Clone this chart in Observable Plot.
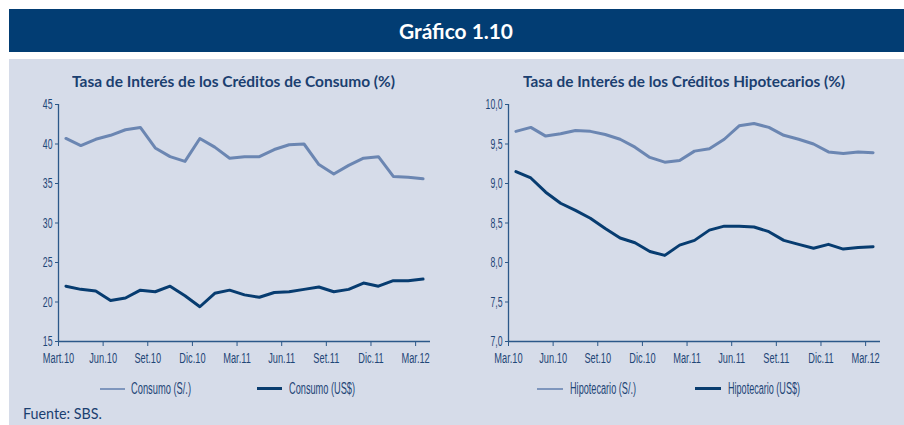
<!DOCTYPE html>
<html><head><meta charset="utf-8">
<script src="https://cdn.jsdelivr.net/npm/d3@7"></script>
<script src="https://cdn.jsdelivr.net/npm/@observablehq/plot@0.6"></script>
<style>
body{margin:0;width:904px;height:425px;position:relative;background:#fff;overflow:hidden;font-family:Lato,"Open Sans",sans-serif}
#band{position:absolute;left:9px;top:9px;width:895px;height:43px;background:#023d73}
#panel{position:absolute;left:9px;top:59px;width:895px;height:366px;background:#d6dce9}
.abs{position:absolute;white-space:nowrap}
.fit{transform-origin:0 50%}
.title{font-weight:700;font-size:16px;color:#1b3f70;line-height:20px}
.leg{font-family:"Liberation Sans",sans-serif;font-size:16px;color:#1f4677;line-height:16px}
.sw{position:absolute}
</style></head>
<body>
<div id="band"></div>
<div id="panel"></div>
<div class="abs fit" id="hdr" data-w="114" style="left:399px;top:19px;font-weight:700;font-size:20px;color:#fff;line-height:24px">Gráfico 1.10</div>
<div class="abs fit title" data-w="323" style="left:72px;top:71px">Tasa de Interés de los Créditos de Consumo (%)</div>
<div class="abs fit title" data-w="322" style="left:523px;top:71px">Tasa de Interés de los Créditos Hipotecarios (%)</div>
<div id="c1" class="abs" style="left:0;top:90px"></div>
<div id="c2" class="abs" style="left:450px;top:90px"></div>
<div class="sw" style="left:100px;top:388px;width:25px;height:2px;background:#7f96bd"></div>
<div class="abs leg fit" data-w="60" style="left:131px;top:381px">Consumo (S/.)</div>
<div class="sw" style="left:257px;top:387px;width:25px;height:3px;background:#0a3d6f"></div>
<div class="abs leg fit" data-w="66" style="left:289px;top:381px">Consumo (US$)</div>
<div class="sw" style="left:537px;top:388px;width:26px;height:2px;background:#7f96bd"></div>
<div class="abs leg fit" data-w="66" style="left:570px;top:381px">Hipotecario (S/.)</div>
<div class="sw" style="left:695px;top:387px;width:26px;height:3px;background:#0a3d6f"></div>
<div class="abs leg fit" data-w="72" style="left:728px;top:381px">Hipotecario (US$)</div>
<div class="abs fit" data-w="79" style="left:23px;top:403px;font-size:15px;color:#1b3f70;line-height:20px">Fuente: SBS.</div>
<script>
// Data: monthly, Mar.10 .. Mar.12 (25 months)
const consumoSoles = [40.7, 39.8, 40.6, 41.1, 41.8, 42.1, 39.5, 38.4, 37.8, 40.7, 39.6, 38.2, 38.4, 38.4, 39.3, 39.9, 40.0, 37.4, 36.2, 37.3, 38.2, 38.4, 35.9, 35.8, 35.6];
const consumoDolares = [22.0, 21.6, 21.4, 20.2, 20.5, 21.5, 21.3, 22.0, 20.8, 19.4, 21.1, 21.5, 20.9, 20.6, 21.2, 21.3, 21.6, 21.9, 21.3, 21.6, 22.4, 22.0, 22.7, 22.7, 22.9];
const hipoSoles = [9.66, 9.71, 9.60, 9.63, 9.67, 9.66, 9.62, 9.56, 9.46, 9.33, 9.27, 9.29, 9.41, 9.44, 9.56, 9.73, 9.76, 9.71, 9.61, 9.56, 9.50, 9.40, 9.38, 9.40, 9.39];
const hipoDolares = [9.15, 9.07, 8.89, 8.75, 8.66, 8.56, 8.43, 8.31, 8.25, 8.14, 8.09, 8.22, 8.28, 8.41, 8.46, 8.46, 8.45, 8.39, 8.28, 8.23, 8.18, 8.23, 8.17, 8.19, 8.20];
const labelsLeft = ["Mart.10","Jun.10","Set.10","Dic.10","Mar.11","Jun.11","Set.11","Dic.11","Mar.12"];
const labelsRight = ["Mar.10","Jun.10","Set.10","Dic.10","Mar.11","Jun.11","Set.11","Dic.11","Mar.12"];
const yTicksLeft = [15,20,25,30,35,40,45];
const yTicksRight = [7.0,7.5,8.0,8.5,9.0,9.5,10.0];

const LIGHT = "#6b86b2", DARK = "#073c70", AXIS = "#2c5889", TXT = "#1f4677";
const nMonths = consumoSoles.length;
const xTickPos = labelsLeft.map((d,i)=>i*3);

function chart(s1, s2, yTicks, xLabels, fmt){
  const rows = [];
  s1.forEach((v,i)=>rows.push({x:i+0.5, y:v, s:"a"}));
  s2.forEach((v,i)=>rows.push({x:i+0.5, y:v, s:"b"}));
  const y0 = yTicks[0], y1 = yTicks[yTicks.length-1];
  return Plot.plot({
    width: 440, height: 285,
    marginLeft: 58, marginRight: 10, marginTop: 14, marginBottom: 34,
    style: {background:"transparent", fontFamily:"'Liberation Sans',sans-serif", fontSize:"12px", color:TXT, overflow:"visible"},
    x: {domain:[0, nMonths], axis:null},
    y: {domain:[y0, y1], axis:null},
    marks: [
      Plot.axisY({ticks:yTicks, tickSize:3, tickPadding:3, stroke:AXIS, fill:TXT, tickFormat:fmt, fontSize:15, label:null}),
      Plot.axisX({ticks:xTickPos, tickSize:5, tickPadding:7, stroke:AXIS, fill:TXT, tickFormat:d=>xLabels[d/3], fontSize:14, label:null}),
      Plot.ruleX([0], {y1:y0, y2:y1, stroke:AXIS, strokeWidth:1.3}),
      Plot.ruleY([y0], {x1:0, x2:nMonths, stroke:AXIS, strokeWidth:1.3}),
      Plot.line(rows.filter(d=>d.s==="a"), {x:"x", y:"y", stroke:LIGHT, strokeWidth:3}),
      Plot.line(rows.filter(d=>d.s==="b"), {x:"x", y:"y", stroke:DARK, strokeWidth:3})
    ]
  });
}
const p1 = chart(consumoSoles, consumoDolares, yTicksLeft, labelsLeft, d=>String(d));
const p2 = chart(hipoSoles, hipoDolares, yTicksRight, labelsRight, d=>d.toFixed(1).replace(".", ","));
document.getElementById("c1").append(p1);
document.getElementById("c2").append(p2);

// condense tick labels (reference uses a narrow face)
[p1, p2].forEach(svg=>{
  svg.querySelectorAll("text").forEach(t=>{
    const len = t.getComputedTextLength();
    const ratio = t.textContent.includes(".") ? 0.66 : 0.58;
    if (len>0){ t.setAttribute("textLength", (len*ratio).toFixed(1)); t.setAttribute("lengthAdjust","spacingAndGlyphs"); }
  });
});

// horizontally fit texts to the widths measured on the reference
document.querySelectorAll(".fit").forEach(el=>{
  const w = el.getBoundingClientRect().width, t = +el.dataset.w;
  if (w>0 && t) el.style.transform = `scaleX(${t/w})`;
});
</script>
</body></html>
